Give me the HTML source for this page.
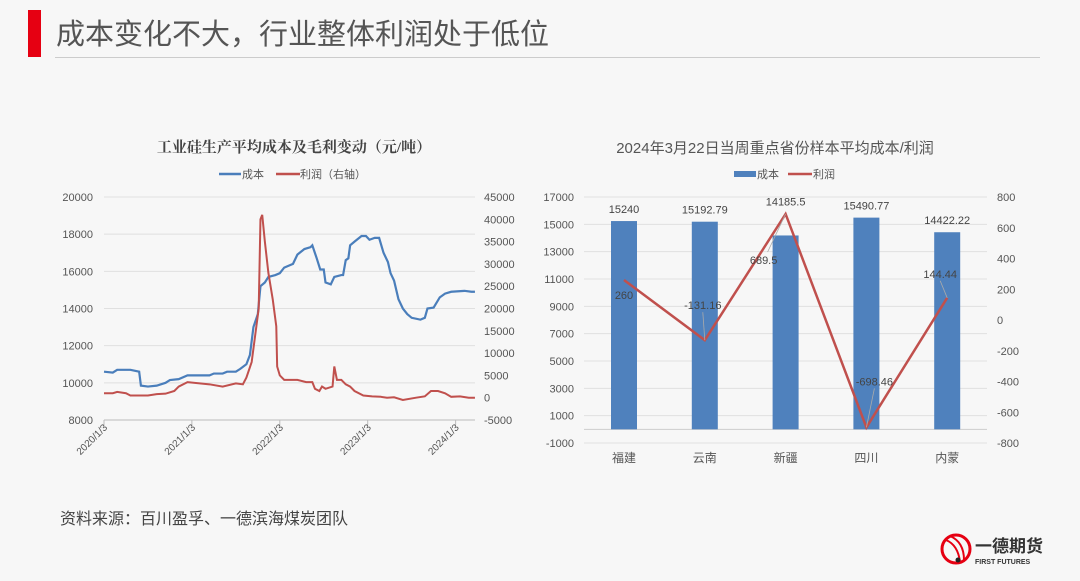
<!DOCTYPE html>
<html><head><meta charset="utf-8">
<style>
body{margin:0;background:#f7f7f7;width:1080px;height:581px;overflow:hidden;font-family:"Liberation Sans","Noto Sans CJK SC",sans-serif;}
svg{position:absolute;left:0;top:0}
</style></head>
<body>
<svg width="1080" height="581">
<rect x="0" y="0" width="1080" height="581" fill="#f7f7f7"/>
<rect x="28" y="10" width="13" height="47" fill="#e60012"/>
<text x="56" y="44" font-size="29" fill="#555" font-family="Liberation Sans,Noto Sans CJK SC,sans-serif">成本变化不大，行业整体利润处于低位</text>
<line x1="55" y1="57.5" x2="1040" y2="57.5" stroke="#ccc"/>
<text x="60" y="524" font-size="16" fill="#444" font-family="Liberation Sans,Noto Sans CJK SC,sans-serif">资料来源：百川盈孚、一德滨海煤炭团队</text>
<g>
<circle cx="956" cy="549" r="14" fill="none" stroke="#e60012" stroke-width="3"/>
<path d="M946 540 Q958 545 960 562 M950 536 Q964 542 964 560" stroke="#e60012" stroke-width="2" fill="none"/>
<circle cx="958" cy="560" r="2.5" fill="#222"/>
<text x="975" y="552" font-size="17" font-weight="bold" fill="#333" font-family="Liberation Sans,Noto Sans CJK SC,sans-serif">一德期货</text>
<text x="975" y="564" font-size="7" font-weight="bold" fill="#333">FIRST FUTURES</text>
</g>
<g id="left"></g>
<g id="right"></g>
</svg>
<script>
// ---------- Left chart data ----------
const costT=[0,0.1,0.15,0.3,0.4,0.42,0.5,0.6,0.7,0.75,0.85,0.95,1.2,1.25,1.35,1.4,1.5,1.55,1.62,1.66,1.7,1.75,1.78,1.83,1.87,1.95,2.0,2.05,2.1,2.15,2.2,2.28,2.35,2.37,2.42,2.46,2.5,2.52,2.58,2.62,2.7,2.72,2.75,2.78,2.8,2.85,2.93,2.98,3.02,3.08,3.13,3.18,3.23,3.26,3.3,3.35,3.4,3.45,3.5,3.6,3.65,3.68,3.75,3.82,3.88,3.95,4.1,4.18,4.22];
const costV=[10600,10550,10700,10700,10600,9850,9800,9850,10000,10150,10200,10400,10400,10500,10500,10600,10600,10750,11000,11500,13000,13700,15200,15400,15700,15800,15900,16200,16300,16400,16900,17200,17300,17400,16700,16100,16100,15400,15300,15700,15800,15800,16600,16700,17400,17600,17900,17900,17700,17800,17800,17000,16500,15900,15500,14500,14000,13700,13500,13400,13500,14000,14050,14600,14800,14900,14950,14900,14900];
const profitT=[0,0.1,0.15,0.25,0.3,0.5,0.6,0.7,0.8,0.85,0.95,1.2,1.35,1.5,1.58,1.62,1.68,1.72,1.76,1.78,1.8,1.83,1.87,1.92,1.96,1.97,2.0,2.05,2.2,2.3,2.37,2.4,2.45,2.48,2.52,2.6,2.62,2.65,2.7,2.75,2.8,2.85,2.95,3.05,3.15,3.22,3.3,3.4,3.55,3.65,3.72,3.8,3.88,3.95,4.05,4.15,4.22];
const profitV=[1000,1000,1300,1000,500,500,800,900,1500,2500,3500,3000,2500,3200,3000,4500,8000,14000,20000,40000,41000,35000,28000,22000,16000,7000,5000,4000,4000,3500,3500,2000,1500,2500,2000,2500,7000,4000,4000,3000,2500,1500,500,300,200,0,100,-500,0,300,1500,1500,1000,200,300,0,0];
const leftTicks=[8000,10000,12000,14000,16000,18000,20000];
const rightTicks=[-5000,0,5000,10000,15000,20000,25000,30000,35000,40000,45000];
const xTickLabels=['2020/1/3','2021/1/3','2022/1/3','2023/1/3','2024/1/3'];
// ---------- Right chart data ----------
const provinces=['福建','云南','新疆','四川','内蒙'];
const provCost=[15240,15192.79,14185.5,15490.77,14422.22];
const provProfit=[260,-131.16,689.5,-698.46,144.44];
const costTicks=[-1000,1000,3000,5000,7000,9000,11000,13000,15000,17000];
const profitTicks=[-800,-600,-400,-200,0,200,400,600,800];

const NS='http://www.w3.org/2000/svg';
function mk(p,tag,a,txt){const e=document.createElementNS(NS,tag);for(const k in a)e.setAttribute(k,a[k]);if(txt!==undefined)e.textContent=txt;p.appendChild(e);return e;}
const F='Liberation Sans,Noto Sans CJK SC,sans-serif';

// Left chart
(function(){
const g=document.getElementById('left');
const x=t=>104+t*87.9, yL=v=>420-(v-8000)/12000*223, yR=v=>420-(v+5000)/50000*223;
let e=mk(g,'text',{x:294,y:152,'font-size':15,'font-weight':'bold','text-anchor':'middle',fill:'#444','font-family':'Liberation Serif,Noto Serif CJK SC,serif'},'工业硅生产平均成本及毛利变动（元/吨）');

e=mk(g,'line',{x1:219,y1:174,x2:241,y2:174,stroke:'#4a7ebb','stroke-width':2.5});

e=mk(g,'text',{x:242,y:178,'font-size':11,fill:'#555','font-family':F},'成本');

e=mk(g,'line',{x1:276,y1:174,x2:300,y2:174,stroke:'#c0504d','stroke-width':2.5});

e=mk(g,'text',{x:300,y:178,'font-size':11,fill:'#555','font-family':F},'利润（右轴）');

leftTicks.forEach(v=>{
 const y=yL(v);
 e=mk(g,'line',{x1:104,y1:y,x2:475,y2:y,stroke:v===8000?'#bbb':'#e0e0e0'});
 
 e=mk(g,'text',{x:93,y:y+4,'font-size':11,fill:'#555','text-anchor':'end','font-family':F},v);
 
});
rightTicks.forEach(v=>{
 e=mk(g,'text',{x:484,y:yR(v)+4,'font-size':11,fill:'#555','font-family':F},v);
 
});
xTickLabels.forEach((l,i)=>{
 const xx=x(i);
 mk(g,'line',{x1:xx,y1:420,x2:xx,y2:425,stroke:'#bbb'});
 e=mk(g,'text',{x:xx+4,y:428,'font-size':10,fill:'#555','text-anchor':'end','font-family':F,transform:`rotate(-45 ${xx+4} 428)`},l);
 
});
e=mk(g,'polyline',{points:costT.map((t,i)=>x(t)+','+yL(costV[i])).join(' '),fill:'none',stroke:'#4a7ebb','stroke-width':2.2});

e=mk(g,'polyline',{points:profitT.map((t,i)=>x(t)+','+yR(profitV[i])).join(' '),fill:'none',stroke:'#c0504d','stroke-width':2});

})();

// Right chart
(function(){
const g=document.getElementById('right');
const cx=i=>624+i*80.8, yL=v=>443-(v+1000)/18000*246, yR=v=>443-(v+800)/1600*246;
let e=mk(g,'text',{x:775,y:153,'font-size':15,'text-anchor':'middle',fill:'#555','font-family':F},'2024年3月22日当周重点省份样本平均成本/利润');

e=mk(g,'rect',{x:734,y:171,width:22,height:6,fill:'#4f81bd'});

e=mk(g,'text',{x:757,y:178,'font-size':11,fill:'#555','font-family':F},'成本');

e=mk(g,'line',{x1:788,y1:174,x2:812,y2:174,stroke:'#c0504d','stroke-width':2.5});

e=mk(g,'text',{x:813,y:178,'font-size':11,fill:'#555','font-family':F},'利润');

costTicks.forEach(v=>{
 const y=yL(v);
 e=mk(g,'line',{x1:584,y1:y,x2:987,y2:y,stroke:'#e0e0e0'});
 
 e=mk(g,'text',{x:574,y:y+4,'font-size':11,fill:'#555','text-anchor':'end','font-family':F},v);
 
});
mk(g,'line',{x1:584,y1:yL(0),x2:987,y2:yL(0),stroke:'#ccc'});
profitTicks.forEach(v=>{
 e=mk(g,'text',{x:997,y:yR(v)+4,'font-size':11,fill:'#555','font-family':F},v);
 
});
provinces.forEach((p,i)=>{
 const x=cx(i);
 e=mk(g,'rect',{x:x-13,y:yL(provCost[i]),width:26,height:yL(0)-yL(provCost[i]),fill:'#4f81bd'});
 
 e=mk(g,'text',{x:x,y:yL(provCost[i])-(i===2?30:8),'font-size':11,fill:'#444','text-anchor':'middle','font-family':F},provCost[i]);
 
 e=mk(g,'text',{x:x,y:462,'font-size':12,fill:'#555','text-anchor':'middle','font-family':F},p);
 
});
e=mk(g,'polyline',{points:provProfit.map((v,i)=>cx(i)+','+yR(v)).join(' '),fill:'none',stroke:'#c0504d','stroke-width':2.5});

const off=[[0,19],[-2,-31],[-22,50],[8,-42],[-7,-20]];
provProfit.forEach((v,i)=>{
 const px=cx(i), py=yR(v), lx=px+off[i][0], ly=py+off[i][1];
 if(i>0){
  e=mk(g,'line',{x1:px,y1:py,x2:lx+(i===2?4:0),y2:ly+(off[i][1]<0?3:-12),stroke:'#aaa','stroke-width':0.8});
  
 }
 e=mk(g,'text',{x:lx,y:ly,'font-size':11,fill:'#444','text-anchor':'middle','font-family':F},v);
 
});
})();
</script>
</body></html>
